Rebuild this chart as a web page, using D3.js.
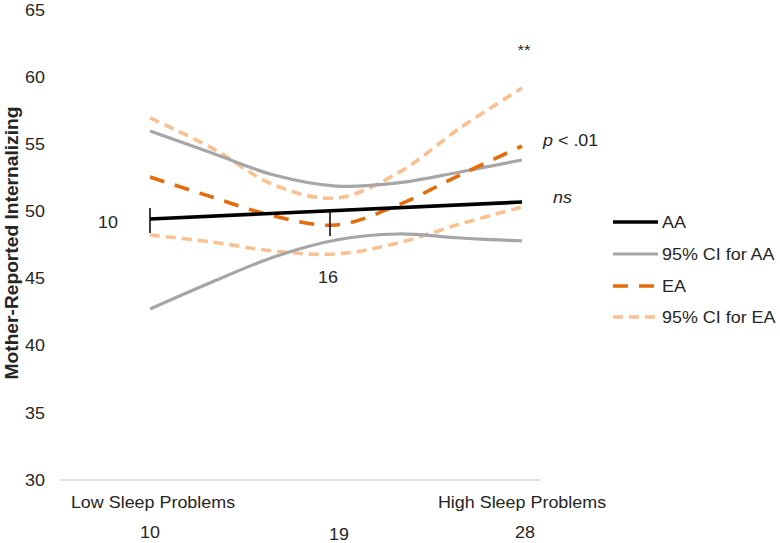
<!DOCTYPE html>
<html><head><meta charset="utf-8">
<script src="https://cdn.jsdelivr.net/npm/d3@7/dist/d3.min.js"></script>
<style>body{margin:0;background:#fff}svg{display:block}text{font-family:"Liberation Sans",Arial,sans-serif;fill:#262626}</style>
</head><body><svg id="c" width="780" height="543"></svg>
<script>
// x positions (sleep problems) where curves are sampled
const xs = [10, 13, 16, 19, 22, 25, 28];
const aaX = [10, 28];
const aa = [49.44, 50.70];
const aaUpper = [55.99, 54.35, 52.71, 51.89, 52.12, 52.94, 53.83];
const aaLower = [42.73, 44.74, 46.61, 47.87, 48.32, 48.02, 47.80];
const ea = [52.56, 51.07, 49.66, 48.99, 50.48, 52.71, 54.87];
const eaUpper = [56.96, 54.72, 51.97, 51.00, 52.86, 56.21, 59.19];
const eaLower = [48.24, 47.72, 47.05, 46.83, 47.65, 49.06, 50.33];
const yTicks = [30, 35, 40, 45, 50, 55, 60, 65];
const xTicks = [10, 19, 28];
const xEndLabels = ["Low Sleep Problems", "High Sleep Problems"];
const markX = [10, 18.71];
const markTop = [50.25, 49.98];
const markBottom = [48.39, 48.17];
const markLabels = ["10", "16"];
const legendNames = ["AA", "95% CI for AA", "EA", "95% CI for EA"];

const svg = d3.select("#c");
const SX = 1.12;
const x = d3.scaleLinear().domain([10, 28]).range([150, 522]);
const y = d3.scaleLinear().domain([30, 65]).range([480, 10]);

function txt(tx, ty, s, opts = {}) {
  const g = svg.append("g").attr("transform", `translate(${tx},${ty}) scale(${opts.sx || SX},1.03)`);
  const t = g.append("text").attr("font-size", opts.size || 16)
    .attr("text-anchor", opts.anchor || "start")
    .attr("dy", "0.35em");
  if (opts.style) t.attr("font-style", opts.style);
  if (opts.weight) t.attr("font-weight", opts.weight);
  t.text(s);
  return t;
}

// baseline
svg.append("line").attr("x1", 60).attr("x2", 541).attr("y1", y(30)).attr("y2", y(30))
  .attr("stroke", "#d9d9d9").attr("stroke-width", 1.5);

// y tick labels
yTicks.forEach(v => txt(45, y(v), v, {anchor: "end"}));

// y title
const tg = svg.append("g").attr("transform", `translate(11,${243}) rotate(-90)`);
tg.append("text").attr("text-anchor", "middle").attr("dy", "0.35em")
  .attr("font-size", 17).attr("font-weight", "bold").attr("fill", "#000")
  .attr("transform", "scale(1.13,1.1)")
  .text("Mother-Reported Internalizing");

// x labels
txt(153, 502, xEndLabels[0], {anchor: "middle"});
txt(522, 502, xEndLabels[1], {anchor: "middle"});
txt(x(10), 532, xTicks[0], {anchor: "middle"});
txt(339, 534, xTicks[1], {anchor: "middle"});
txt(525, 532, xTicks[2], {anchor: "middle"});

const line = d3.line().x(d => x(d[0])).y(d => y(d[1])).curve(d3.curveCatmullRom.alpha(0.5));
const styles = {
  aaCI: {stroke: "#a6a6a6", w: 3.2, dash: null},
  aa: {stroke: "#000000", w: 3.6, dash: null},
  ea: {stroke: "#e46c0a", w: 3.6, dash: "15,11"},
  eaCI: {stroke: "#fac090", w: 3.6, dash: "10,6"}
};
function draw(xv, yv, st) {
  const p = svg.append("path").datum(xv.map((d, i) => [d, yv[i]]))
    .attr("d", line).attr("fill", "none").attr("stroke", st.stroke).attr("stroke-width", st.w);
  if (st.dash) p.attr("stroke-dasharray", st.dash);
}
draw(xs, eaUpper, styles.eaCI);
draw(xs, eaLower, styles.eaCI);
draw(xs, aaUpper, styles.aaCI);
draw(xs, aaLower, styles.aaCI);
draw(xs, ea, styles.ea);
draw(aaX, aa, styles.aa);

// region-of-significance marks
markX.forEach((m, i) => {
  svg.append("line").attr("x1", x(m)).attr("x2", x(m)).attr("y1", y(markTop[i])).attr("y2", y(markBottom[i]))
    .attr("stroke", "#000").attr("stroke-width", 1.5);
});
txt(108, 222, markLabels[0], {anchor: "middle"});
txt(328, 277, markLabels[1], {anchor: "middle"});

// annotations
txt(524, 50, "**", {anchor: "middle", size: 15});
const pt = txt(543, 140, "", {});
pt.append("tspan").attr("font-style", "italic").text("p");
pt.append("tspan").text(" < .01");
txt(553, 197, "ns", {style: "italic"});

// legend
const legY = [222, 254, 286, 317];
const legSt = [styles.aa, styles.aaCI, styles.ea, styles.eaCI];
legendNames.forEach((n, i) => {
  const st = legSt[i];
  const l = svg.append("line").attr("x1", 613).attr("x2", 658).attr("y1", legY[i]).attr("y2", legY[i])
    .attr("stroke", st.stroke).attr("stroke-width", st.w);
  if (st.dash) l.attr("stroke-dasharray", st.dash);
  txt(662, legY[i], n);
});
</script></body></html>
